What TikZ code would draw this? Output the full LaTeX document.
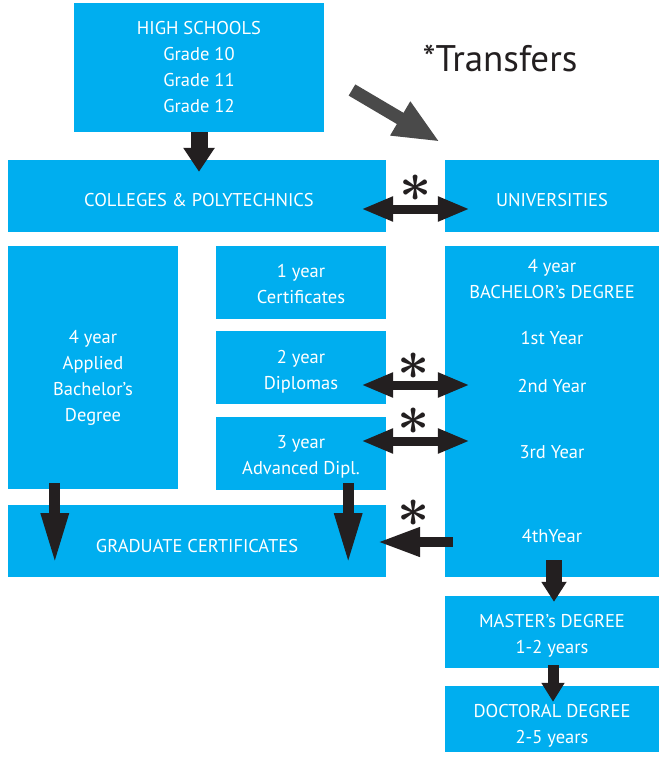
\documentclass[tikz,border=0pt]{standalone}
\usepackage{fontspec}
\usepackage{graphicx}
\setmainfont{PT Sans}
\usetikzlibrary{arrows.meta,calc}
\definecolor{cy}{HTML}{00AEEF}
\definecolor{ink}{HTML}{231F20}
\definecolor{darkg}{HTML}{4A4A4A}
\newcommand{\bigast}{\scalebox{5.6}{\boldmath$\ast$}}
\begin{document}
\begin{tikzpicture}[x=1pt,y=-1pt,
  box/.style={fill=cy, draw=none, inner sep=0pt},
  txt/.style={text=white, align=center, inner sep=0pt, font=\fontsize{18.5}{26}\selectfont},
  star/.style={inner sep=0pt, text=ink},
  hsarr/.style={draw=ink, line width=17pt, -{Triangle[width=30pt,length=24pt]}},
  gdown/.style={draw=ink, line width=11pt, -{Triangle[width=25pt,length=52pt]}},
  dbl/.style={draw=ink, line width=9pt, {Triangle[width=23pt,length=32pt]}-{Triangle[width=23pt,length=32pt]}},
  lft/.style={draw=ink, line width=10pt, -{Triangle[width=27pt,length=43pt]}},
  mdown/.style={draw=ink, line width=16pt, -{Triangle[width=24pt,length=20pt]}},
  mdownb/.style={draw=ink, line width=11pt, -{Triangle[width=22pt,length=19pt]}},
  grayarr/.style={draw=darkg, line width=13pt, -{Triangle[width=36pt,length=46pt]}}
]
\useasboundingbox (0,0) rectangle (659,758);
\fill[white] (0,0) rectangle (659,758);

% boxes
\node[box, minimum width=250pt, minimum height=129pt] (hs) at (199,67.5) {};
\node[box, minimum width=378pt, minimum height=72pt] (col) at (197,196) {};
\node[box, minimum width=214pt, minimum height=72pt] (uni) at (552,196) {};
\node[box, minimum width=170pt, minimum height=243pt] (app) at (93,367.5) {};
\node[box, minimum width=170pt, minimum height=73pt] (cert1) at (301,282.5) {};
\node[box, minimum width=170pt, minimum height=73pt] (dip2) at (301,367.5) {};
\node[box, minimum width=170pt, minimum height=73pt] (dip3) at (301,453.5) {};
\node[box, minimum width=378pt, minimum height=72pt] (grad) at (197,541) {};
\node[box, minimum width=214pt, minimum height=331pt] (ubig) at (552,411.5) {};
\node[box, minimum width=214pt, minimum height=72pt] (mas) at (552,632) {};
\node[box, minimum width=214pt, minimum height=66pt] (doc) at (552,719) {};

% texts
\node[txt] (hstxt) at (199,67.5) {HIGH SCHOOLS\\Grade 10\\Grade 11\\Grade 12};
\node[txt] (coltxt) at (199,200) {COLLEGES \& POLYTECHNICS};
\node[txt] (unitxt) at (552,200) {UNIVERSITIES};
\node[txt] (apptxt) at (93,378) {4 year\\Applied\\Bachelor’s\\Degree};
\node[txt] (cert1txt) at (301,284) {1 year\\Certificates};
\node[txt] (dip2txt) at (301,371.5) {2 year\\Diplomas};
\node[txt] (dip3txt) at (301,456.5) {3 year\\Advanced Dipl.};
\node[txt] (gradtxt) at (197,546) {GRADUATE CERTIFICATES};
\node[txt] (ub1) at (552,279) {4 year\\BACHELOR’s DEGREE};
\node[txt] (ub2) at (552,338) {1st Year};
\node[txt] (ub3) at (552,386) {2nd Year};
\node[txt] (ub4) at (552,452) {3rd Year};
\node[txt] (ub5) at (552,536) {4thYear};
\node[txt] (mastxt) at (552,636) {MASTER’s DEGREE\\1-2 years};
\node[txt] (doctxt) at (552,726) {DOCTORAL DEGREE\\2-5 years};

% title
\node[inner sep=0pt, text=ink, font=\fontsize{37}{37}\selectfont] (title) at (500,58) {*Transfers};

% arrows
\draw[hsarr] (hs.south) -- ($(hs.south |- col.north)+(0,12)$);

\draw[dbl] ([xshift=-25pt,yshift=-13pt]col.east) -- ([xshift=25pt,yshift=-13pt]uni.west);
\node[star] (s1) at (416,188) {\bigast};

\coordinate (t2) at ([xshift=-25pt,yshift=-17.5pt]dip2.east);
\draw[dbl] (t2) -- ($(t2 -| ubig.west)+(25,0)$);
\node[star] (s2) at (414,366) {\bigast};

\coordinate (t3) at ([xshift=-25pt,yshift=12.5pt]dip3.east);
\draw[dbl] (t3) -- ($(t3 -| ubig.west)+(25,0)$);
\node[star] (s3) at (414,421) {\bigast};

\coordinate (t4) at ($(ubig.west |- grad.east)+(8,1)$);
\draw[lft] (t4) -- ($(grad.east |- t4)+(-9,0)$);
\node[star] (s4) at (414,513) {\bigast};

\coordinate (g1) at ([xshift=47pt,yshift=6pt]app.south west);
\draw[gdown] (g1) -- ($(g1 |- grad.south)+(0,-12)$);
\coordinate (g2) at ([xshift=-38pt,yshift=7pt]dip3.south east);
\draw[gdown] (g2) -- ($(g2 |- grad.south)+(0,-12)$);

\draw[mdown] ([xshift=2pt,yshift=17pt]ubig.south) -- ([xshift=2pt,yshift=-6pt]mas.north);
\draw[mdownb] ([xshift=1pt,yshift=3pt]mas.south) -- ([xshift=1pt,yshift=-16pt]doc.north);

\coordinate (gt) at (352,90);
\draw[grayarr] (gt) -- ([xshift=-5pt,yshift=18pt]uni.north west);
\end{tikzpicture}
\end{document}
